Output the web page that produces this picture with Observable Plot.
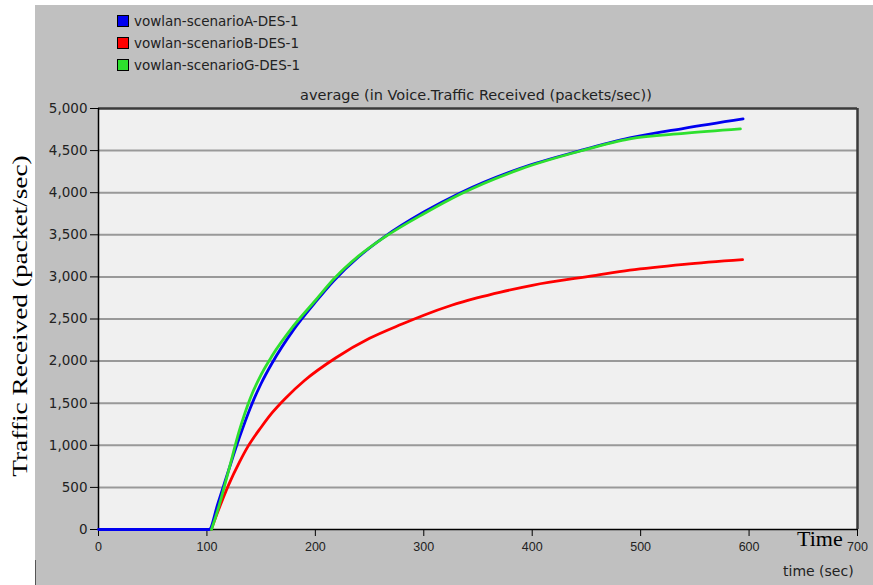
<!DOCTYPE html>
<html>
<head>
<meta charset="utf-8">
<script src="https://cdn.jsdelivr.net/npm/d3@7"></script>
<script src="https://cdn.jsdelivr.net/npm/@observablehq/plot@0.6"></script>
<style>
  html, body { margin: 0; padding: 0; background: #fff; }
  #wrap { position: relative; width: 873px; height: 585px; overflow: hidden; font-family: "DejaVu Sans", sans-serif; }
  #panel { position: absolute; left: 35px; top: 5px; width: 838px; height: 580px; background: #c0c0c0; }
  #chart { position: absolute; left: 0; top: 0; }
  .lg { position: absolute; left: 117px; font-size: 13.5px; color: #222; line-height: 14px; white-space: nowrap; }
  .lg span.sw { display: inline-block; width: 10px; height: 10px; border: 1px solid #000; vertical-align: -1px; margin-right: 5px; }
  .txt { position: absolute; white-space: nowrap; color: #222; }
</style>
</head>
<body>
<div id="wrap">
  <div id="panel"></div>
  <div id="chart"></div>
</div>
<script>
// ---- data ----
const seriesNames = ["vowlan-scenarioA-DES-1", "vowlan-scenarioB-DES-1", "vowlan-scenarioG-DES-1"];
const seriesColors = ["#0000f0", "#ff0000", "#2ee02e"];

const timeA = [0, 100, 102, 110, 120, 130, 140, 150, 160, 180, 200, 217, 240, 263, 300, 334, 389, 444.5, 490, 540, 594.5];
const valueA = [0, 0, 0, 304, 704, 1094, 1444, 1734, 1974, 2374, 2700, 2955, 3240, 3470, 3770, 4000, 4290, 4500, 4650, 4765, 4877];

const timeB = [104, 110, 120, 130, 138, 150, 160, 172.5, 190, 219, 250, 280, 300, 325, 349, 371, 400, 457, 490, 540, 594];
const valueB = [0, 210, 530, 800, 990, 1215, 1385, 1560, 1770, 2040, 2270, 2440, 2545, 2660, 2750, 2820, 2900, 3015, 3080, 3150, 3206];

const timeG = [104.2, 110, 120, 130, 140, 150, 160, 180, 200, 217, 240, 263, 300, 334, 389, 444.5, 490, 540, 592];
const valueG = [0, 230, 700, 1180, 1560, 1840, 2060, 2420, 2720, 2975, 3250, 3465, 3750, 3985, 4280, 4495, 4640, 4705, 4759];

const xTicks = [0, 100, 200, 300, 400, 500, 600, 700];
const yTicks = [0, 500, 1000, 1500, 2000, 2500, 3000, 3500, 4000, 4500, 5000];

const chartTitle = "average (in Voice.Traffic Received (packets/sec))";
const yLabel = "Traffic Received (packet/sec)";
const xLabelBig = "Time";
const xLabelSmall = "time (sec)";

// ---- build table ----
const rows = [];
[[timeB, valueB, 1], [timeA, valueA, 0], [timeG, valueG, 2]].forEach(([ts, vs, i]) => {
  ts.forEach((t, k) => rows.push({ t, v: vs[k], s: seriesNames[i] }));
});
const fmt = d3.format(",");

const plot = Plot.plot({
  width: 873,
  height: 585,
  marginLeft: 98,
  marginRight: 16,
  marginTop: 108,
  marginBottom: 56,
  style: { background: "transparent", overflow: "visible" },
  x: { domain: [0, 700], ticks: xTicks, label: null },
  y: { domain: [0, 5000], ticks: yTicks, label: null },
  color: { domain: seriesNames, range: seriesColors },
  marks: [
    Plot.frame({ fill: "#f0f0f0", stroke: null }),
    Plot.ruleY(yTicks.slice(1, -1), { stroke: "#999", strokeWidth: 2 }),
    Plot.ruleY([5000], { stroke: "#3a3a3a", strokeWidth: 2.5 }),
    Plot.ruleX([700], { stroke: "#3a3a3a", strokeWidth: 2.5 }),
    Plot.axisY({ ticks: yTicks, tickFormat: () => "", tickSize: 8, stroke: "#000", label: null }),
    Plot.axisX({ ticks: xTicks, tickFormat: () => "", tickSize: 7, stroke: "#000", label: null }),
    Plot.text(yTicks, { x: 0, y: (d) => d, text: (d) => fmt(d), textAnchor: "end", dx: -11, fontSize: 13.5, fontFamily: "DejaVu Sans", fill: "#222", clip: false }),
    Plot.text(xTicks, { x: (d) => d, y: 0, text: (d) => String(d), dy: 17, fontSize: 12.5, fontFamily: "Liberation Sans", fill: "#222", clip: false }),
    Plot.ruleX([0], { stroke: "#000", strokeWidth: 1.5 }),
    Plot.ruleY([0], { stroke: "#000", strokeWidth: 1.5 }),
    Plot.line(rows, { x: "t", y: "v", z: "s", stroke: "s", strokeWidth: 2.8, curve: "monotone-x" })
  ]
});
document.getElementById("chart").appendChild(plot);

// ---- legend and texts ----
const wrap = document.getElementById("wrap");
const legendTops = [14, 36, 58];
seriesNames.forEach((n, i) => {
  const d = document.createElement("div");
  d.className = "lg";
  d.style.top = legendTops[i] + "px";
  d.innerHTML = `<span class="sw" style="background:${seriesColors[i]}"></span>${n}`;
  wrap.appendChild(d);
});

function addText(str, css) {
  const d = document.createElement("div");
  d.className = "txt";
  d.textContent = str;
  Object.assign(d.style, css);
  wrap.appendChild(d);
  return d;
}
addText(chartTitle, { top: "87px", left: "476px", transform: "translateX(-50%)", fontSize: "14.5px" });
addText(xLabelBig, { top: "526px", left: "797px", fontFamily: "Liberation Serif, 'Times New Roman', serif", fontSize: "22px", color: "#000" });
addText(xLabelSmall, { top: "563px", left: "783px", fontSize: "14px" });
addText(yLabel, { top: "316px", left: "20px", transform: "translate(-50%,-50%) rotate(-90deg) scaleX(1.3)", fontFamily: "Liberation Serif, 'Times New Roman', serif", fontSize: "21px", color: "#000" });
const ln = document.createElement("div");
Object.assign(ln.style, { position: "absolute", left: "35px", top: "560px", width: "1px", height: "25px", background: "#555" });
wrap.appendChild(ln);
</script>
</body>
</html>
